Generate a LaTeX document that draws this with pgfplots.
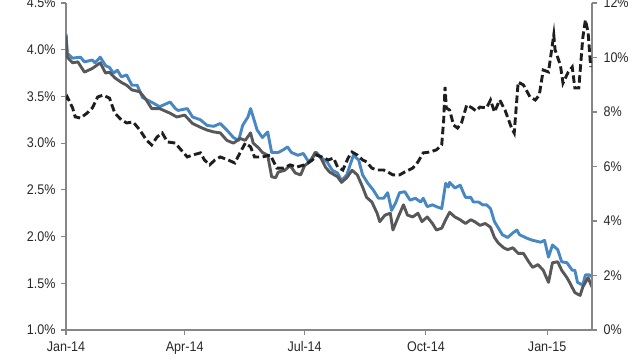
\documentclass[border=0pt]{standalone}
\usepackage{pgfplots}
\pgfplotsset{compat=1.18}
\usepackage{fontspec}
\setmainfont{Liberation Sans}
\newfontfamily\tickfont{Liberation Sans}[FakeStretch=0.9]
\definecolor{sblue}{RGB}{72,136,194}
\definecolor{sgray}{RGB}{88,88,90}
\definecolor{sdash}{RGB}{30,30,30}
\definecolor{axgray}{RGB}{134,134,134}
\definecolor{lbl}{RGB}{40,40,40}
\begin{document}
\begin{tikzpicture}
\pgfplotsset{
 common/.style={
  scale only axis, width=526bp, height=327bp,
  xmin=0, xmax=399,
  axis line style={axgray, line width=1.3bp, -},
  tick style={axgray, line width=1.2bp},
  major tick length=5bp,
  tick align=outside,
  ticklabel style={font=\tickfont\fontsize{14}{16}\selectfont, text=lbl},
  at={(0bp,0bp)}, anchor=south west,
 }}
\begin{axis}[common,
  ymin=1, ymax=4.5,
  axis x line*=bottom, axis y line*=left,
  xtick={0,90,181,273,365},
  xticklabels={Jan-14,Apr-14,Jul-14,Oct-14,Jan-15},
  ytick={1,1.5,2,2.5,3,3.5,4,4.5},
  yticklabels={1.0\%,1.5\%,2.0\%,2.5\%,3.0\%,3.5\%,4.0\%,4.5\%},
  yticklabel style={xshift=-2bp},
  xticklabel style={yshift=-3bp},
]
\addplot[sblue, line width=2.9bp, line join=round] coordinates {
(0,4.17)(1,3.96)(5,3.91)(11,3.92)(14,3.87)(20,3.89)(22,3.86)(26,3.92)(30,3.83)(33,3.81)(36,3.75)(39,3.78)(42,3.71)(46,3.73)(50,3.62)(54,3.62)(58,3.49)(62,3.46)(66,3.43)(71,3.39)(79,3.44)(83,3.37)(85,3.35)(92,3.37)(96,3.28)(102,3.25)(107,3.19)(112,3.18)(117,3.21)(122,3.14)(127,3.06)(131,3.03)(134,3.19)(138,3.28)(140,3.37)(142,3.28)(145,3.14)(149,3.06)(153,3.12)(156,2.90)(161,2.90)(165,2.93)(168,2.96)(171,2.90)(176,2.87)(180,2.89)(184,2.80)(187,2.84)(190,2.90)(193,2.85)(198,2.80)(202,2.71)(206,2.68)(209,2.60)(213,2.66)(218,2.87)(222,2.82)(225,2.66)(229,2.57)(233,2.50)(237,2.41)(241,2.41)(244,2.47)(247,2.28)(250,2.36)(253,2.47)(257,2.48)(261,2.39)(265,2.41)(269,2.37)(271,2.41)(274,2.32)(278,2.34)(281,2.32)(285,2.30)(288,2.57)(290,2.53)(291,2.58)(295,2.52)(299,2.55)(303,2.42)(307,2.42)(309,2.37)(313,2.37)(316,2.34)(319,2.34)(322,2.30)(325,2.16)(328,2.09)(331,2.02)(335,1.99)(339,2.04)(342,2.07)(344,2.02)(350,1.98)(354,1.96)(360,1.94)(363,1.96)(366,1.78)(369,1.91)(373,1.86)(376,1.73)(380,1.72)(384,1.64)(386,1.64)(388,1.51)(392,1.48)(394,1.59)(397,1.59)(399,1.57)
};
\addplot[sgray, line width=2.9bp, line join=round] coordinates {
(0,4.15)(1,3.92)(5,3.86)(9,3.87)(14,3.76)(20,3.80)(26,3.86)(30,3.75)(33,3.76)(37,3.70)(42,3.65)(46,3.62)(50,3.57)(56,3.55)(61,3.46)(65,3.37)(71,3.37)(79,3.32)(84,3.28)(90,3.30)(96,3.21)(102,3.17)(107,3.14)(112,3.12)(117,3.11)(122,3.03)(127,3.00)(132,3.05)(136,3.03)(140,3.11)(142,3.00)(146,2.95)(149,2.90)(153,2.87)(156,2.64)(159,2.63)(161,2.69)(166,2.71)(170,2.76)(174,2.68)(178,2.66)(181,2.76)(185,2.80)(189,2.90)(193,2.85)(197,2.74)(200,2.69)(206,2.64)(209,2.58)(213,2.63)(217,2.71)(221,2.66)(225,2.53)(228,2.42)(232,2.37)(236,2.25)(238,2.16)(242,2.23)(246,2.25)(248,2.07)(252,2.21)(256,2.34)(259,2.23)(263,2.21)(267,2.25)(270,2.16)(274,2.21)(278,2.14)(281,2.07)(285,2.09)(288,2.18)(291,2.26)(295,2.21)(299,2.18)(303,2.14)(307,2.18)(310,2.16)(314,2.12)(318,2.14)(322,2.10)(325,1.99)(328,1.93)(332,1.88)(335,1.86)(339,1.88)(343,1.82)(347,1.82)(351,1.73)(354,1.67)(358,1.70)(362,1.64)(366,1.51)(369,1.72)(373,1.73)(376,1.64)(380,1.56)(382,1.51)(386,1.40)(390,1.37)(392,1.46)(396,1.56)(399,1.46)
};
\end{axis}
\begin{axis}[common,
  ymin=0, ymax=12,
  axis x line=none, axis y line*=right,
  ytick={0,2,4,6,8,10,12},
  yticklabels={0\%,2\%,4\%,6\%,8\%,10\%,12\%},
  yticklabel style={xshift=3bp},
]
\addplot[sdash, line width=2.9bp, dash pattern=on 7.5bp off 3.5bp] coordinates {
(0,8.45)(1,8.55)(5,8.15)(7,7.82)(11,7.78)(16,7.96)(20,8.15)(24,8.55)(28,8.62)(33,8.51)(37,7.96)(42,7.71)(46,7.60)(51,7.63)(56,7.34)(61,6.97)(65,6.79)(69,7.08)(73,7.23)(77,6.90)(83,6.86)(86,6.68)(92,6.35)(96,6.42)(102,6.50)(105,6.24)(109,6.06)(113,6.24)(117,6.35)(123,6.24)(128,6.13)(132,6.50)(136,6.86)(140,6.72)(143,6.35)(149,6.35)(155,6.42)(160,5.94)(165,5.94)(170,6.06)(175,5.98)(181,6.06)(187,6.24)(190,6.42)(194,6.35)(199,6.24)(203,6.31)(206,5.98)(210,5.87)(214,6.31)(217,6.53)(221,6.42)(225,6.24)(228,6.17)(232,5.94)(236,5.87)(241,5.87)(244,5.80)(248,5.69)(253,5.69)(257,5.80)(263,5.94)(267,6.17)(271,6.50)(276,6.53)(281,6.61)(285,6.79)(286.5,7.71)(287.5,8.92)(288.5,8.15)(291,8.07)(294,7.52)(297,7.41)(300,7.60)(304,8.26)(308,8.15)(311,8.04)(314,8.18)(319,8.15)(322,8.44)(325,8.00)(329,8.44)(333,8.07)(338,7.41)(340,7.23)(343,9.10)(347,8.99)(352,8.55)(356,8.44)(359,8.62)(362,9.54)(366,9.47)(370,10.83)(371,10.28)(375,9.72)(377,9.06)(381,9.47)(384,9.65)(386,8.88)(389,8.88)(392,10.72)(394,11.38)(396,10.94)(398,9.65)
};
\end{axis}
\pgfresetboundingbox
\path (-66bp,-30bp) rectangle (574bp,330bp);
\end{tikzpicture}
\end{document}
